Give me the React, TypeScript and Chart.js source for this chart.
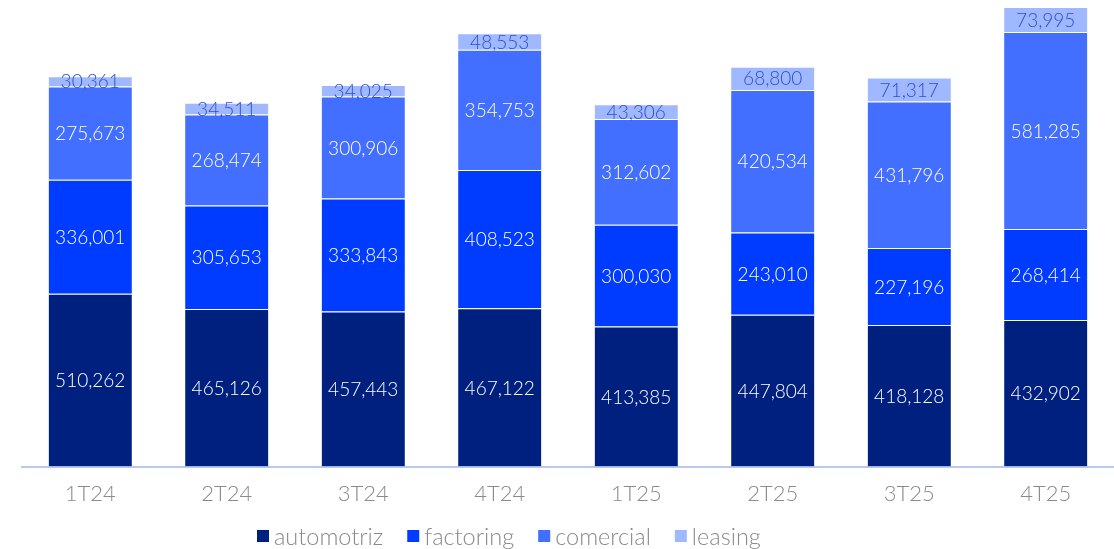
import React, { useEffect, useRef } from "react";
import { Chart, registerables } from "chart.js";

Chart.register(...registerables);

const categories = ["1T24", "2T24", "3T24", "4T24", "1T25", "2T25", "3T25", "4T25"];
const automotriz = [510262, 465126, 457443, 467122, 413385, 447804, 418128, 432902];
const factoring = [336001, 305653, 333843, 408523, 300030, 243010, 227196, 268414];
const comercial = [275673, 268474, 300906, 354753, 312602, 420534, 431796, 581285];
const leasing = [30361, 34511, 34025, 48553, 43306, 68800, 71317, 73995];

const FONT = "Lato, 'Open Sans', sans-serif";

const labelPlugin = {
  id: "segLabels",
  afterDatasetsDraw(chart: any) {
    const ctx = chart.ctx;
    ctx.save();
    ctx.textAlign = "center";
    ctx.textBaseline = "middle";
    ctx.font = `300 19px ${FONT}`;
    chart.data.datasets.forEach((ds: any, di: number) => {
      const meta = chart.getDatasetMeta(di);
      meta.data.forEach((bar: any, i: number) => {
        const v = ds.data[i] as number;
        const y = (bar.y + bar.base) / 2;
        ctx.fillStyle = di === 3 ? "#2a4fd6" : "#ffffff";
        ctx.fillText(v.toLocaleString("en-US"), bar.x, y + 1);
      });
    });
    ctx.restore();
  },
};

const legendPlugin = {
  id: "customLegend",
  afterDraw(chart: any) {
    const ctx = chart.ctx;
    const y = 536;
    const box = 12;
    const gapText = 5;
    const gapItem = 24;
    ctx.save();
    ctx.font = `300 23.5px ${FONT}`;
    ctx.textBaseline = "middle";
    ctx.textAlign = "left";
    let x = 257;
    chart.data.datasets.forEach((ds: any) => {
      ctx.fillStyle = ds.backgroundColor;
      ctx.fillRect(x, y - box / 2, box, box);
      x += box + gapText;
      ctx.fillStyle = "#8a8a8a";
      ctx.fillText(ds.label, x, y + 1);
      x += ctx.measureText(ds.label).width + gapItem;
    });
    ctx.restore();
  },
};

export default function App() {
  const ref = useRef<HTMLCanvasElement | null>(null);
  useEffect(() => {
    if (!ref.current) return;
    const mk = (label: string, data: number[], color: string) => ({
      label,
      data,
      backgroundColor: color,
      borderColor: "rgba(255,255,255,0.45)",
      borderWidth: { top: 1, bottom: 0, left: 0, right: 0 },
      borderSkipped: false as any,
      categoryPercentage: 1,
      barPercentage: 0.61,
    });
    const chart = new Chart(ref.current, {
      type: "bar",
      data: {
        labels: categories,
        datasets: [
          mk("automotriz", automotriz, "#00207f"),
          mk("factoring", factoring, "#003cff"),
          mk("comercial", comercial, "#426fff"),
          mk("leasing", leasing, "#a0b8ff"),
        ],
      },
      options: {
        animation: false,
        responsive: false,
        maintainAspectRatio: false,
        layout: { padding: { left: 22, right: 0, top: 0, bottom: 36 } },
        plugins: {
          legend: { display: false },
          tooltip: { enabled: false },
        },
        scales: {
          x: {
            stacked: true,
            grid: { display: false },
            border: { display: true, color: "#b7c8f3", width: 2 },
            ticks: {
              color: "#8a8a8a",
              padding: 6,
              font: { family: FONT, size: 22, weight: "300" as any },
            },
          },
          y: {
            stacked: true,
            display: false,
            min: 0,
            max: 1377000,
          },
        },
      },
      plugins: [labelPlugin, legendPlugin],
    });
    return () => chart.destroy();
  }, []);
  return (
    <div style={{ position: "fixed", left: 0, top: 0, width: 1114, height: 549, background: "#fff" }}>
      <canvas ref={ref} width={1114} height={549} />
    </div>
  );
}
